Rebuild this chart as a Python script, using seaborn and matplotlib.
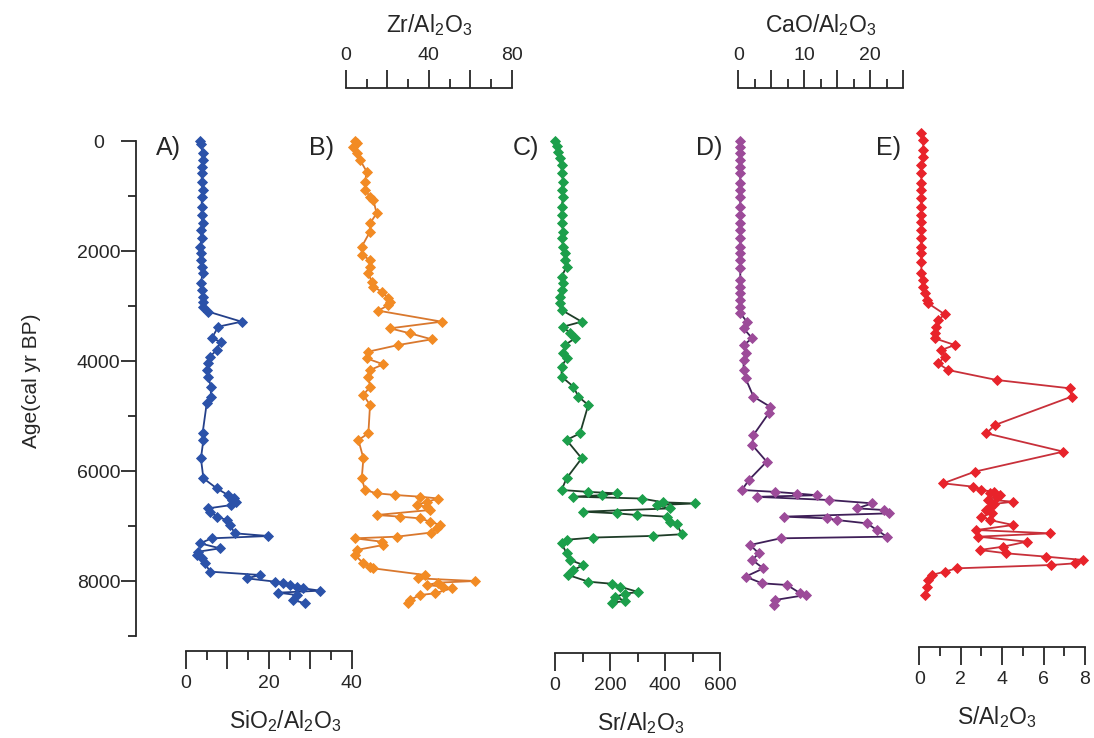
import matplotlib
matplotlib.use("Agg")
import matplotlib.pyplot as plt
import numpy as np
import pandas as pd
import seaborn as sns

# ---------------------------------------------------------------------------
# Geochemical ratios down-core, plotted against calibrated age (cal yr BP)
# ---------------------------------------------------------------------------
age_sio2 = [0, 60, 224, 345, 467, 588, 739, 891, 1012, 1194, 1345, 1497, 1618,
            1770, 1921, 2042, 2164, 2285, 2406, 2588, 2709, 2830, 2921, 3012,
            3103, 3285, 3376, 3588, 3648, 3800, 3921, 4042, 4164, 4285, 4467,
            4648, 4770, 5315, 5436, 5770, 6133, 6315, 6440, 6490, 6527, 6560,
            6620, 6679, 6739, 6830, 6891, 6982, 7133, 7182, 7224, 7315, 7406,
            7467, 7527, 7588, 7679, 7830, 7891, 7952, 8012, 8042, 8073, 8103,
            8133, 8176, 8212, 8255, 8345, 8406]
sio2 = [3.4, 3.6, 4.0, 4.0, 3.8, 3.8, 3.8, 4.0, 3.8, 3.8, 3.8, 4.0, 3.6,
        3.8, 3.4, 3.6, 3.6, 3.8, 4.0, 3.6, 3.8, 4.2, 4.2, 4.0,
        5.4, 13.4, 7.8, 6.2, 8.4, 7.4, 5.8, 5.4, 5.0, 5.4, 6.0,
        6.0, 5.0, 4.0, 4.2, 3.6, 4.2, 7.4, 10.2, 11.6, 11.2, 12.0,
        10.8, 5.4, 5.8, 7.4, 9.8, 10.6, 11.8, 19.9, 6.2, 3.4, 8.2,
        3.0, 2.6, 3.8, 4.6, 5.8, 17.9, 14.7, 21.5, 23.5, 25.1, 26.7,
        28.3, 32.4, 22.3, 26.7, 25.9, 28.7]

age_zr = [0, 30, 103, 224, 345, 558, 739, 891, 1012, 1073, 1315, 1497, 1648,
          1921, 2073, 2164, 2285, 2406, 2558, 2648, 2739, 2861, 2921, 2982,
          3085, 3285, 3406, 3497, 3606, 3709, 3830, 3952, 4061, 4164, 4285,
          4467, 4618, 4800, 5315, 5436, 5770, 6133, 6345, 6406, 6436, 6467,
          6500, 6560, 6618, 6648, 6709, 6800, 6830, 6861, 6921, 6982, 7042,
          7120, 7194, 7224, 7285, 7345, 7436, 7527, 7679, 7739, 7770, 7891,
          7952, 8000, 8030, 8073, 8103, 8133, 8224, 8255, 8345, 8406]
zr = [4.3, 5.2, 3.5, 5.2, 6.8, 10.0, 9.2, 9.2, 11.6, 13.2, 14.8, 11.6, 11.6,
      7.6, 7.6, 11.6, 11.6, 10.8, 12.4, 13.2, 17.2, 20.5, 21.3, 20.5,
      15.6, 46.2, 21.3, 30.9, 41.4, 25.3, 10.8, 10.0, 18.0, 11.6, 10.8,
      11.6, 8.4, 11.6, 10.8, 6.0, 8.4, 7.6, 9.2, 14.8, 23.7, 35.7,
      44.6, 39.0, 34.1, 39.0, 40.6, 14.8, 26.1, 35.7, 40.6, 45.4, 43.8,
      41.0, 24.5, 4.3, 17.2, 18.0, 5.2, 4.3, 8.4, 11.6, 13.2, 38.2,
      34.9, 62.3, 44.6, 39.0, 47.0, 51.0, 43.0, 35.7, 30.9, 30.1]

age_sr = [0, 90, 194, 315, 436, 588, 739, 891, 1012, 1194, 1345, 1497, 1648,
          1770, 1921, 2042, 2164, 2285, 2467, 2588, 2709, 2830, 2952, 3073,
          3285, 3376, 3497, 3588, 3709, 3861, 3952, 4103, 4285, 4467, 4648,
          4800, 5315, 5436, 5770, 6133, 6345, 6380, 6406, 6440, 6467, 6500,
          6570, 6590, 6620, 6680, 6740, 6770, 6800, 6830, 6920, 6960, 7150,
          7180, 7210, 7250, 7315, 7497, 7618, 7710, 7800, 7891, 8012, 8050,
          8103, 8200, 8230, 8290, 8360, 8400]
sr = [0, 6, 12, 18, 24, 24, 30, 24, 30, 24, 24, 24, 30,
      24, 30, 36, 36, 42, 24, 30, 24, 18, 18, 24,
      97, 30, 55, 73, 36, 30, 42, 24, 24, 67, 85,
      121, 91, 42, 97, 42, 24, 121, 224, 170, 67, 315,
      394, 509, 370, 418, 103, 224, 297, 406, 418, 442, 461,
      358, 139, 42, 24, 42, 55, 103, 67, 48, 121, 206,
      236, 303, 255, 218, 255, 206]

age_cao = [0, 103, 224, 345, 467, 588, 770, 891, 1012, 1194, 1345, 1497, 1618,
           1770, 1921, 2042, 2164, 2315, 2527, 2648, 2770, 2891, 3012, 3133,
           3285, 3406, 3588, 3709, 3861, 3982, 4164, 4315, 4648, 4830, 4952,
           5345, 5527, 5830, 6164, 6345, 6380, 6410, 6440, 6470, 6527, 6588,
           6679, 6709, 6770, 6830, 6861, 6891, 6952, 7073, 7194, 7224, 7345,
           7497, 7618, 7770, 7921, 8042, 8073, 8224, 8255, 8345, 8436]
cao = [0.3, 0.3, 0.3, 0.3, 0.3, 0.3, 0.3, 0.3, 0.3, 0.3, 0.3, 0.3, 0.3,
       0.3, 0.3, 0.3, 0.3, 0.3, 0.3, 0.3, 0.3, 0.3, 0.3, 0.3,
       1.3, 0.8, 2.1, 0.8, 1.1, 0.8, 0.8, 1.1, 2.3, 4.8, 4.6,
       2.3, 2.1, 4.3, 1.6, 0.55, 5.6, 8.9, 11.9, 2.8, 13.7, 20.3,
       18.0, 22.0, 22.8, 6.9, 13.4, 14.9, 19.5, 21.0, 22.5, 6.4, 1.8,
       3.1, 2.1, 3.8, 1.1, 3.6, 7.4, 9.4, 10.2, 5.6, 5.4]

age_s = [-139, -18, 164, 285, 436, 588, 770, 891, 1042, 1194, 1345, 1467, 1618,
         1770, 1921, 2042, 2194, 2406, 2527, 2648, 2770, 2891, 2952, 3152,
         3255, 3376, 3497, 3588, 3709, 3800, 3921, 4042, 4164, 4345, 4497,
         4648, 5164, 5315, 5648, 6012, 6224, 6285, 6345, 6380, 6406, 6440,
         6467, 6520, 6558, 6600, 6648, 6700, 6770, 6830, 6891, 6982, 7073,
         7133, 7194, 7285, 7376, 7436, 7497, 7558, 7618, 7679, 7709, 7770,
         7830, 7891, 7982, 8103, 8255]
s = [0.1, 0.19, 0.19, 0.19, 0.1, 0.1, 0.1, 0.1, 0.1, 0.1, 0.1, 0.1, 0.1,
     0.1, 0.1, 0.1, 0.1, 0.1, 0.19, 0.19, 0.27, 0.35, 0.43, 1.23,
     0.91, 0.83, 0.75, 0.75, 1.71, 1.07, 1.23, 0.91, 1.39, 3.73, 7.27,
     7.35, 3.65, 3.24, 6.95, 2.68, 1.15, 2.6, 3.0, 3.6, 3.4, 3.9,
     3.73, 3.3, 4.53, 3.6, 3.4, 3.2, 3.49, 3.0, 3.4, 4.53, 2.76,
     6.3, 2.84, 5.18, 4.05, 2.92, 4.21, 6.14, 7.91, 7.51, 6.38, 1.8,
     1.23, 0.59, 0.43, 0.35, 0.27]

letters = ["A)", "B)", "C)", "D)", "E)"]
titles = [r"SiO$_2$/Al$_2$O$_3$", r"Zr/Al$_2$O$_3$", r"Sr/Al$_2$O$_3$",
          r"CaO/Al$_2$O$_3$", r"S/Al$_2$O$_3$"]
age_ticks = [0, 2000, 4000, 6000, 8000]

# ---------------------------------------------------------------------------
sns.set_style("ticks")
plt.rcParams["font.family"] = ["Liberation Sans", "DejaVu Sans"]
plt.rcParams["mathtext.default"] = "regular"
plt.rcParams["axes.linewidth"] = 1.1

W, H = 1094, 738
fig = plt.figure(figsize=(W / 100, H / 100), dpi=100)
fig.patch.set_facecolor("white")

AGE_TOP, AGE_BOT = -300, 9000
Y0_PX, PX_PER_YR = 141, 0.055


def age_px(a):
    return Y0_PX + PX_PER_YR * a


def axes_px(x0, x1):
    y_top, y_bot = age_px(AGE_TOP), age_px(AGE_BOT)
    return fig.add_axes([x0 / W, 1 - y_bot / H, (x1 - x0) / W, (y_bot - y_top) / H])


# age axis
ax_age = axes_px(136, 140)
ax_age.set_ylim(AGE_BOT, AGE_TOP)
ax_age.patch.set_visible(False)
for side in ["top", "right", "bottom"]:
    ax_age.spines[side].set_visible(False)
ax_age.spines["left"].set_bounds(0, 9000)
ax_age.spines["left"].set_linewidth(1.3)
ax_age.set_xticks([])
ax_age.set_yticks(age_ticks)
ax_age.set_yticks(np.arange(1000, 9001, 2000), minor=True)
ax_age.tick_params(axis="y", which="major", length=11, width=1.3, labelsize=14, pad=16)
ax_age.tick_params(axis="y", which="minor", length=5.5, width=1.3)
for lbl in ax_age.get_yticklabels():
    lbl.set_horizontalalignment("center")
ax_age.set_ylabel("Age(cal yr BP)", fontsize=15, labelpad=26)

panels = [
    dict(age=age_sio2, val=sio2, px=(186, 351.7), lim=(0, 40), side="bottom", off=10.8,
         major=[0, 10, 20, 30, 40], lab=["0", "", "20", "", "40"], minor=[5, 15, 25, 35],
         mfc="#2b52a9", lc="#24408a", letter_px=(156, 148), title_x=0.6),
    dict(age=age_zr, val=zr, px=(346, 511.7), lim=(0, 80), side="top", off=26.3,
         major=[0, 20, 40, 60, 80], lab=["0", "", "40", "", "80"], minor=[10, 30, 50, 70],
         mfc="#f28b24", lc="#d9782e", letter_px=(309, 148), title_x=0.5),
    dict(age=age_sr, val=sr, px=(555, 720), lim=(0, 600), side="bottom", off=12.2,
         major=[0, 200, 400, 600], lab=["0", "200", "400", "600"], minor=[100, 300, 500],
         mfc="#1c9f4b", lc="#1f3d28", letter_px=(513, 148), title_x=0.52),
    dict(age=age_cao, val=cao, px=(738.3, 903.3), lim=(0, 25), side="top", off=26.3,
         major=[0, 5, 10, 15, 20, 25], lab=["0", "", "10", "", "20", ""],
         minor=[2.5, 7.5, 12.5, 17.5, 22.5],
         mfc="#9c4b99", lc="#3f1f58", letter_px=(696, 148), title_x=0.5),
    dict(age=age_s, val=s, px=(919.3, 1085), lim=(0, 8), side="bottom", off=7.9,
         major=[0, 2, 4, 6, 8], lab=["0", "2", "4", "6", "8"], minor=[1, 3, 5, 7],
         mfc="#e8232b", lc="#c8303a", letter_px=(876, 148), title_x=0.47),
]

for p, letter, title in zip(panels, letters, titles):
    ax = axes_px(*p["px"])
    df = pd.DataFrame({"value": p["val"], "age": p["age"]})
    sns.lineplot(data=df, x="value", y="age", orient="y", sort=True, estimator=None,
                 ax=ax, color=p["lc"], linewidth=1.3, marker="D", markersize=5.6,
                 markerfacecolor=p["mfc"], markeredgecolor=p["mfc"],
                 markeredgewidth=0.6, clip_on=False, legend=False)
    ax.set_xlim(*p["lim"])
    ax.set_ylim(AGE_BOT, AGE_TOP)
    ax.patch.set_visible(False)
    ax.set_ylabel("")
    ax.set_yticks([])
    for side in ["top", "bottom", "left", "right"]:
        ax.spines[side].set_visible(side == p["side"])
    sp = ax.spines[p["side"]]
    sp.set_position(("outward", p["off"]))
    sp.set_linewidth(1.3)
    sp.set_bounds(*p["lim"])
    ax.xaxis.set_ticks_position(p["side"])
    ax.xaxis.set_label_position(p["side"])
    ax.set_xticks(p["major"])
    ax.set_xticklabels(p["lab"])
    ax.set_xticks(p["minor"], minor=True)
    ax.tick_params(axis="x", which="major", length=13, width=1.3, labelsize=14, pad=4)
    ax.tick_params(axis="x", which="minor", length=6.5, width=1.3)
    ax.set_xlabel(title, fontsize=16.5, labelpad=12 if p["side"] == "bottom" else 11,
                  x=p["title_x"])
    lx, ly = p["letter_px"]
    fig.text(lx / W, 1 - ly / H, letter, fontsize=18, va="center", ha="left")

fig.savefig("out.png", dpi=100, facecolor="white")
